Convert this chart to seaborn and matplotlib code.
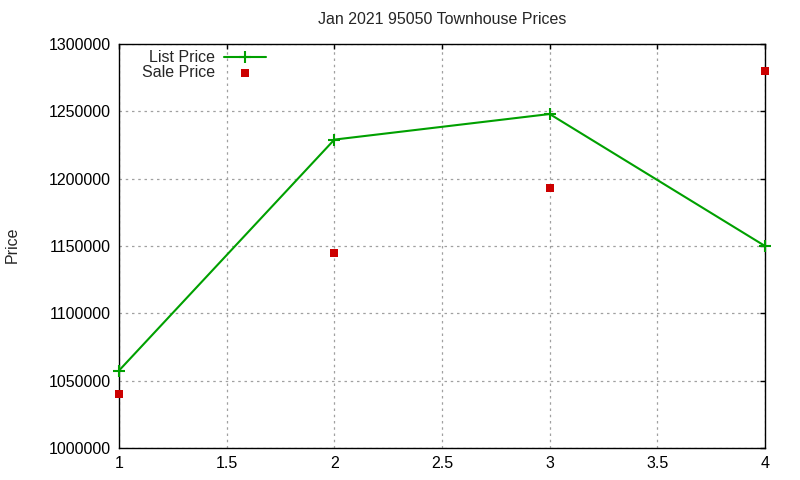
import matplotlib
matplotlib.use("Agg")
import matplotlib.pyplot as plt
import seaborn as sns
import pandas as pd
from matplotlib.ticker import FormatStrFormatter, MultipleLocator

x_vals = [1, 2, 3, 4]
list_price = [1057500, 1229000, 1248000, 1150000]
sale_price = [1040000, 1145000, 1193000, 1280000]
title = "Jan 2021 95050 Townhouse Prices"
y_label = "Price"

sns.set_style("white")
plt.rcParams['font.family'] = ['Liberation Sans', 'DejaVu Sans']
plt.rcParams['font.size'] = 11.5

df_list = pd.DataFrame({"x": x_vals, "y": list_price})
df_sale = pd.DataFrame({"x": x_vals, "y": sale_price})

fig = plt.figure(figsize=(8, 4.8), dpi=100)
ax = fig.add_axes([119/800, 1-448/480, (765-119)/800, (448-44)/480])

sns.lineplot(data=df_list, x="x", y="y", ax=ax, color="#00a000", lw=1.5,
             marker="+", markersize=9, markeredgewidth=1.5,
             markeredgecolor="#00a000", label="List Price", clip_on=False, zorder=3)
sns.scatterplot(data=df_sale, x="x", y="y", ax=ax, color="#cc0000", marker="s",
                s=38, linewidth=0, label="Sale Price", zorder=4, clip_on=False)

ax.set_xlim(1, 4)
ax.set_ylim(1000000, 1300000)
ax.xaxis.set_major_locator(MultipleLocator(0.5))
ax.yaxis.set_major_locator(MultipleLocator(50000))
ax.xaxis.set_major_formatter(FormatStrFormatter('%g'))
ax.yaxis.set_major_formatter(FormatStrFormatter('%d'))
ax.grid(True, color="#a0a0a0", linestyle=(0, (2, 3)), linewidth=0.9)
ax.set_axisbelow(True)
for s in ax.spines.values():
    s.set_color("black")
    s.set_linewidth(1.0)
ax.tick_params(direction="in", length=3.5, width=1, top=True, right=True,
               labelsize=11.5, pad=6, colors="black")
ax.set_xlabel("")
ax.set_ylabel("")
fig.text(12/800, 1-245/480, y_label, rotation=90, ha="center", va="center", fontsize=11.5)
fig.text(442/800, 1-20/480, title, ha="center", va="center", fontsize=11.5)

leg = ax.legend(loc="upper right", bbox_to_anchor=(277/800, 1-39/480),
                bbox_transform=fig.transFigure, frameon=False, markerfirst=False,
                fontsize=11.5, handlelength=2.6, labelspacing=-0.03, borderpad=0.2,
                handletextpad=0.56)

fig.savefig("out.png", dpi=100)
